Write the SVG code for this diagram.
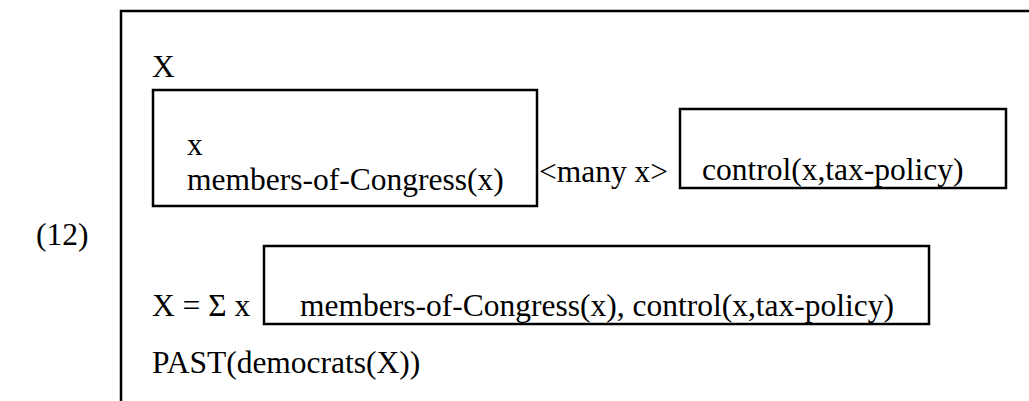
<svg xmlns="http://www.w3.org/2000/svg" width="1029" height="401" viewBox="0 0 1029 401">
<style>
text{font-family:"Liberation Serif","Times New Roman",serif;font-size:31.5px;fill:#000}
.b{fill:none;stroke:#000;stroke-width:2.5}
</style>
<rect width="1029" height="401" fill="#fff"/>
<text x="36" y="245">(12)</text>
<g id="outer">
<path class="b" d="M121,401 V11 H1029"/>
<text x="152" y="77">X</text>
</g>
<g id="box1">
<rect class="b" x="153" y="90" width="384" height="116"/>
<text x="187" y="155">x</text>
<text x="187" y="190">members-of-Congress(x)</text>
</g>
<g id="many">
<text x="539" y="182">&lt;many x&gt;</text>
</g>
<g id="box2">
<rect class="b" x="680" y="109" width="326" height="79"/>
<text x="702" y="180">control(x,tax-policy)</text>
</g>
<g id="sum">
<text x="152" y="316">X = Σ x</text>
</g>
<g id="box3">
<rect class="b" x="264" y="246" width="665" height="78"/>
<text x="300" y="316">members-of-Congress(x), control(x,tax-policy)</text>
</g>
<g id="past">
<text x="152" y="373">PAST(democrats(X))</text>
</g>
<g id="connectors"></g>
</svg>
